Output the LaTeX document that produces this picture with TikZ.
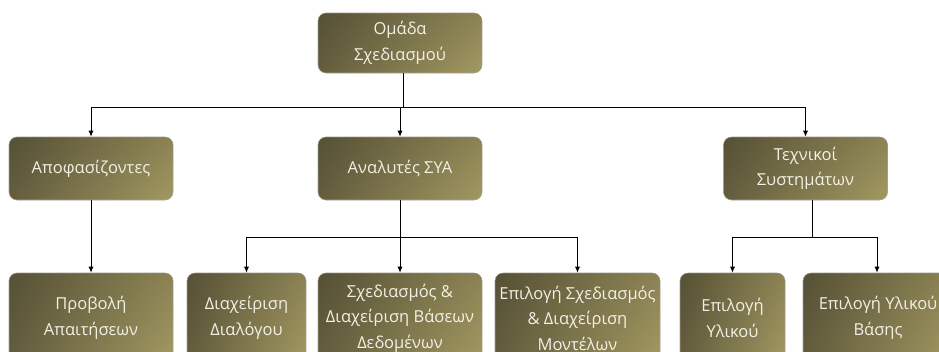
\documentclass[tikz,border=0pt]{standalone}
\usepackage{fontspec}
\setmainfont{Open Sans}
\usetikzlibrary{arrows.meta,fadings}
\definecolor{olivedark}{HTML}{645E3F}
\definecolor{olivelight}{HTML}{A39962}
\definecolor{boxtext}{HTML}{F2F0E4}
\definecolor{boxrim}{HTML}{A8A596}
\tikzset{
  orgbox/.style={rounded corners=8pt, left color=olivedark, right color=olivelight,
    draw=boxrim, line width=0.6pt, text=boxtext, align=center,
    font=\fontsize{16.5}{25.5}\selectfont, inner sep=0pt,
    postaction={fill=black, fill opacity=0.14, path fading=south}},
  link/.style={draw=black, line width=0.8pt},
  arrowlink/.style={link, -{Latex[length=6pt,width=5pt]}}
}
\begin{document}
\begin{tikzpicture}[x=1pt,y=-1pt]
\useasboundingbox (0,0) rectangle (939,351);
\begin{scope}
\clip (0,0) rectangle (939,351);
% root
\node[orgbox, minimum width=164pt, minimum height=60pt] (root) at (400,43) {Ομάδα\\Σχεδιασμού};
% second level
\node[orgbox, minimum width=164pt, minimum height=63pt] (dec) at (91,168.5) {Αποφασίζοντες};
\node[orgbox, minimum width=164pt, minimum height=63pt] (ana) at (400,168.5) {Αναλυτές ΣΥΑ};
\node[orgbox, minimum width=164pt, minimum height=63pt] (tech) at (805.5,168.5) {Τεχνικοί\\Συστημάτων};
% third level
\node[orgbox, minimum width=164pt, minimum height=90pt] (req) at (91,318) {Προβολή\\Απαιτήσεων};
\node[orgbox, minimum width=119pt, minimum height=90pt] (dia) at (246.5,318) {Διαχείριση\\Διαλόγου};
\node[orgbox, minimum width=164pt, minimum height=90pt] (db) at (400,318) {Σχεδιασμός \&\\Διαχείριση Βάσεων\\Δεδομένων};
\node[orgbox, minimum width=165pt, minimum height=90pt] (mod) at (577.5,318) {Επιλογή Σχεδιασμός\\\& Διαχείριση\\Μοντέλων};
\node[orgbox, minimum width=105pt, minimum height=90pt] (hw) at (732.5,318) {Επιλογή\\Υλικού};
\node[orgbox, minimum width=150pt, minimum height=90pt] (base) at (878,318) {Επιλογή Υλικού\\Βάσης};
\end{scope}
% connectors from the root
\coordinate (rbus) at ([xshift=3pt]root.south |- 0,107);
\draw[link] ([xshift=3pt]root.south) -- (rbus);
\draw[link] (dec.north |- rbus) -- (tech.north |- rbus);
\draw[arrowlink] (dec.north |- rbus) -- (dec.north);
\draw[arrowlink] (ana.north |- rbus) -- (ana.north);
\draw[arrowlink] (tech.north |- rbus) -- (tech.north);
% decision makers
\draw[arrowlink] (dec.south) -- (req.north);
% analysts
\coordinate (abus) at (ana.south |- 0,237);
\draw[link] (ana.south) -- (abus);
\draw[link] (dia.north |- abus) -- (mod.north |- abus);
\draw[arrowlink] (dia.north |- abus) -- (dia.north);
\draw[arrowlink] (ana.south |- abus) -- (db.north);
\draw[arrowlink] (mod.north |- abus) -- (mod.north);
% system technicians
\coordinate (tbus) at (812,237);
\coordinate (tright) at (877,237);
\draw[link] ([xshift=6.5pt]tech.south) -- (tbus);
\draw[link] (hw.north |- tbus) -- (tright);
\draw[arrowlink] (hw.north |- tbus) -- (hw.north);
\draw[arrowlink] (tright) -- (tright |- base.north);
\end{tikzpicture}
\end{document}
